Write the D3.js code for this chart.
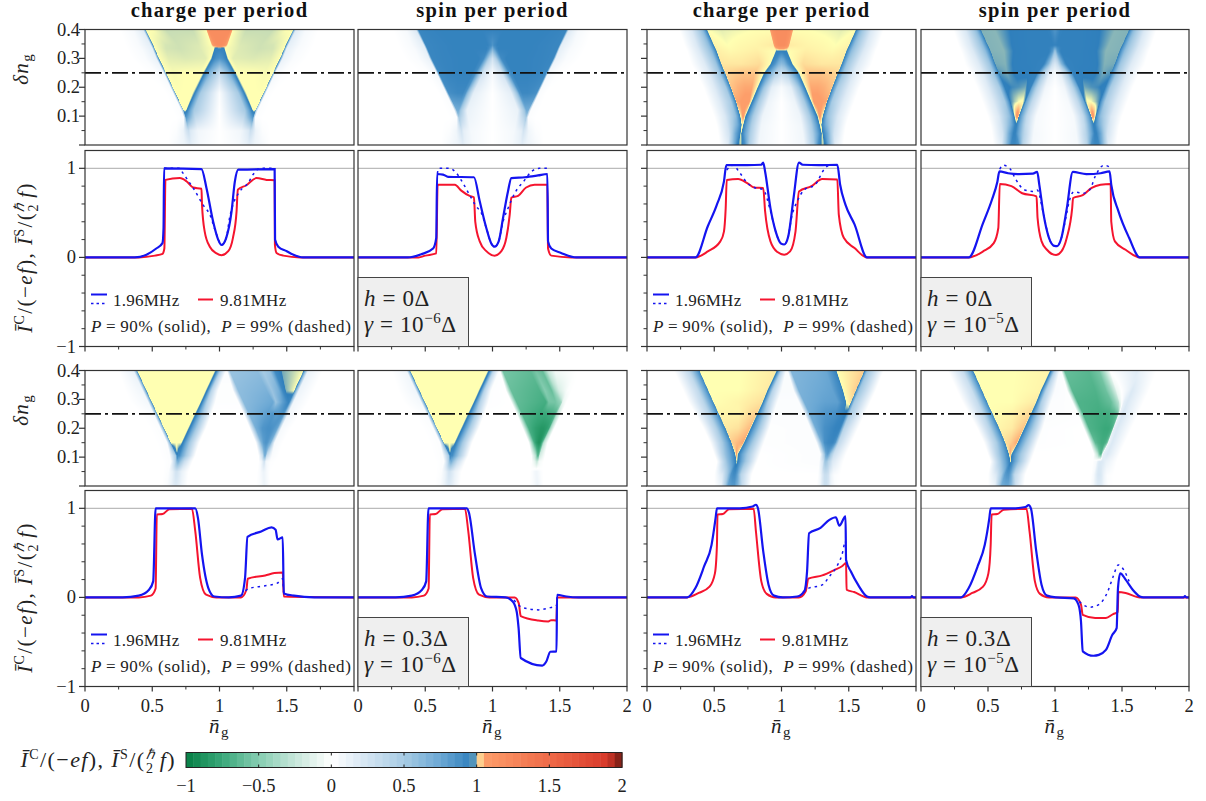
<!DOCTYPE html>
<html>
<head>
<meta charset="utf-8">
<script src="https://cdn.jsdelivr.net/npm/d3@7"></script>
<style>
  body { margin: 0; background: #fff; }
  text { font-family: "Liberation Serif", serif; fill: #222; }
  .tick-label { font-size: 18.5px; }
  .title { font-size: 20.5px; font-weight: bold; letter-spacing: 1.3px; text-anchor: middle; fill: #111; }
  .legend { font-size: 17px; letter-spacing: 0.25px; }
  .legend-wide { letter-spacing: 0.6px; }
  .info { font-size: 23px; letter-spacing: 0.6px; }
  .axis-label { font-size: 21px; letter-spacing: 1.4px; }
  .heat-map { filter: blur(0.45px); }
</style>
</head>
<body>
<svg id="chart" width="1206" height="801"></svg>
<script>
////////////////////////////////////////////////////////////////////
////////////////////////////  Line data  ///////////////////////////
// [n_g, current]
const redA = [[0,0],[.4,0],[.52,.02],[.576,.04],[.59,.1],[.598,.87],[.705,.89],[.754,.855],[.804,.785],[.866,.77],[.87,.59],[.89,.29],[.928,.12],[.978,.045],[1.015,.025],[1.065,.07],[1.1,.22],[1.127,.52],[1.136,.76],[1.2,.81],[1.275,.89],[1.35,.87],[1.41,.865],[1.412,.14],[1.424,.05],[1.474,.02],[1.6,0],[2,0]];
const blueA = [[0,0],[.37,0],[.457,.03],[.53,.1],[.576,.16],[.584,.33],[.588,1],[.866,.99],[.903,.78],[.953,.4],[.99,.2],[1.015,.14],[1.05,.22],[1.09,.52],[1.114,.85],[1.14,.985],[1.41,.99],[1.413,.2],[1.437,.12],[1.5,.07],[1.55,.03],[1.62,0],[2,0]];
const dotA = [[.588,1],[.7,1],[.717,.97],[.754,.89],[.804,.78],[.878,.59],[.928,.48],[.98,.25],[1.015,.14],[1.05,.22],[1.077,.46],[1.1,.59],[1.15,.74],[1.213,.835],[1.25,.93],[1.3,1],[1.41,1]];

const redB = [[0,0],[.45,0],[.5,.02],[.582,.045],[.592,.815],[.72,.815],[.768,.75],[.83,.69],[.862,.675],[.872,.4],[.905,.18],[.954,.07],[1.016,.02],[1.066,.07],[1.103,.22],[1.128,.48],[1.14,.67],[1.19,.69],[1.25,.785],[1.313,.815],[1.408,.815],[1.413,.1],[1.437,.02],[1.586,0],[2,0]];
const blueB = [[0,0],[.37,0],[.47,.035],[.558,.1],[.582,.22],[.588,.936],[.632,.93],[.67,.905],[.862,.9],[.905,.63],[.954,.33],[.99,.16],[1.016,.12],[1.046,.18],[1.078,.44],[1.115,.74],[1.14,.89],[1.24,.9],[1.338,.92],[1.408,.936],[1.413,.18],[1.437,.1],[1.51,.05],[1.623,0],[2,0]];
const dotB = [[.59,.94],[.6,1],[.68,1],[.73,.95],[.78,.835],[.83,.7],[.88,.57],[.917,.5],[.954,.33],[.99,.16],[1.016,.12],[1.046,.18],[1.078,.4],[1.115,.55],[1.165,.72],[1.24,.87],[1.29,.965],[1.35,1],[1.408,1]];

const redC = [[0,0],[.36,0],[.452,.067],[.545,.18],[.572,.29],[.585,.55],[.593,.87],[.678,.88],[.745,.835],[.798,.785],[.864,.78],[.878,.52],[.918,.18],[.97,.06],[1.02,.03],[1.064,.067],[1.104,.29],[1.13,.74],[1.223,.8],[1.303,.88],[1.415,.875],[1.426,.48],[1.463,.22],[1.543,.105],[1.636,0],[2,0]];
const blueC = [[0,0],[.36,0],[.452,.35],[.519,.59],[.572,.85],[.59,1.035],[.745,1.035],[.85,1.04],[.864,1.065],[.878,.965],[.918,.55],[.957,.29],[.997,.155],[1.02,.145],[1.05,.235],[1.09,.67],[1.13,1.065],[1.157,1.04],[1.277,1.035],[1.415,1.04],[1.436,.815],[1.476,.59],[1.543,.37],[1.636,0],[2,0]];
const dotC = [[.593,.98],[.638,1.035],[.69,.95],[.745,.835],[.798,.785],[.864,.76],[.918,.52],[.957,.29],[.997,.155],[1.02,.145],[1.05,.235],[1.075,.45],[1.117,.63],[1.17,.76],[1.25,.815],[1.316,.985],[1.356,1.035],[1.415,1.035]];

const redD = [[0,0],[.356,0],[.463,.067],[.543,.16],[.577,.33],[.588,.825],[.675,.8],[.755,.72],[.862,.685],[.87,.44],[.9,.18],[.94,.086],[1.008,.026],[1.048,.067],[1.088,.22],[1.128,.55],[1.135,.667],[1.207,.7],[1.274,.78],[1.34,.815],[1.415,.825],[1.42,.4],[1.447,.18],[1.527,.086],[1.633,0],[2,0]];
const blueD = [[0,0],[.356,0],[.463,.385],[.53,.65],[.57,.85],[.585,.965],[.65,.945],[.73,.935],[.835,.94],[.867,.96],[.883,.815],[.915,.48],[.955,.22],[.995,.13],[1.016,.127],[1.048,.22],[1.088,.55],[1.133,.96],[1.234,.935],[1.34,.945],[1.407,.965],[1.42,.815],[1.473,.52],[1.553,.22],[1.633,0],[2,0]];
const dotD = [[.588,.99],[.61,1.035],[.662,1],[.702,.89],[.77,.76],[.835,.74],[.867,.756],[.915,.48],[.955,.22],[.995,.13],[1.016,.127],[1.048,.22],[1.088,.5],[1.1,.59],[1.14,.735],[1.207,.72],[1.26,.76],[1.3,.91],[1.367,1.035],[1.415,1.01]];

const redE = [[0,0],[.4,0],[.49,.02],[.525,.1],[.534,.93],[.577,.935],[.628,.99],[.795,.995],[.82,.74],[.856,.22],[.9,.03],[.977,0],[1.16,0],[1.2,.086],[1.21,.21],[1.34,.247],[1.408,.273],[1.47,.28],[1.478,.01],[2,0]];
const blueE = [[0,0],[.28,0],[.4,.02],[.476,.086],[.507,.18],[.525,1],[.82,1],[.84,.89],[.87,.48],[.917,.105],[.962,.01],[1.07,0],[1.16,.02],[1.19,.22],[1.208,.68],[1.31,.74],[1.387,.785],[1.417,.76],[1.432,.65],[1.47,.674],[1.478,.045],[1.554,.02],[1.705,0],[2,0]];
const dotE = [[1.16,.02],[1.22,.1],[1.34,.13],[1.43,.16],[1.47,.21],[1.478,.04],[1.554,.02]];

const redF = [[0,0],[.4,0],[.49,.02],[.525,.1],[.534,.93],[.577,.935],[.628,.99],[.795,.995],[.82,.74],[.856,.22],[.9,.03],[.977,0],[1.165,0],[1.195,-.065],[1.21,-.21],[1.34,-.26],[1.415,-.27],[1.436,-.255],[1.476,-.26],[1.48,0],[2,0]];
const blueF = [[0,0],[.28,0],[.4,.02],[.476,.086],[.507,.18],[.524,1],[.81,1],[.825,.95],[.87,.48],[.915,.105],[.96,.01],[1.097,0],[1.15,-.045],[1.18,-.16],[1.194,-.345],[1.21,-.68],[1.37,-.765],[1.4,-.72],[1.43,-.61],[1.476,-.605],[1.48,.03],[1.55,.01],[1.64,0],[2,0]];
const dotF = [[1.16,-.03],[1.218,-.11],[1.34,-.14],[1.415,-.12],[1.476,-.09],[1.48,0]];

const redG = [[0,0],[.298,0],[.385,.05],[.465,.12],[.505,.27],[.52,.59],[.524,.93],[.564,.935],[.61,.99],[.793,.995],[.81,.74],[.85,.18],[.89,.04],[.957,0],[1.13,0],[1.18,.07],[1.2,.21],[1.303,.247],[1.396,.31],[1.45,.35],[1.48,.385],[1.484,.086],[1.54,.06],[1.635,0],[2,0]];
const blueG = [[0,0],[.298,0],[.36,.105],[.425,.35],[.48,.59],[.51,.89],[.52,1],[.69,1],[.785,1.02],[.81,1.04],[.825,1],[.864,.52],[.904,.14],[.944,.02],[1.01,0],[1.117,.01],[1.17,.07],[1.19,.29],[1.205,.72],[1.29,.78],[1.356,.87],[1.404,.9],[1.43,.805],[1.476,.91],[1.48,.42],[1.516,.29],[1.57,.14],[1.635,.01],[1.66,0],[1.96,0],[1.97,.015],[1.98,0],[2,0]];
const dotG = [[1.16,.06],[1.197,.1],[1.303,.14],[1.356,.235],[1.404,.33],[1.45,.48],[1.476,.63],[1.48,.42]];

const redH = [[0,0],[.298,0],[.383,.05],[.463,.12],[.503,.27],[.52,.59],[.527,.93],[.57,.935],[.617,.985],[.787,.995],[.81,.74],[.85,.18],[.888,.04],[.955,0],[1.154,0],[1.194,-.08],[1.207,-.195],[1.3,-.23],[1.38,-.23],[1.434,-.187],[1.468,-.165],[1.473,.06],[1.527,.05],[1.633,0],[2,0]];
const blueH = [[0,0],[.298,0],[.356,.105],[.423,.35],[.476,.59],[.51,.89],[.52,1],[.69,1],[.78,1.015],[.803,1.035],[.82,1],[.86,.52],[.9,.14],[.94,.02],[1.008,0],[1.14,-.01],[1.175,-.08],[1.194,-.27],[1.207,-.605],[1.287,-.655],[1.327,-.645],[1.38,-.59],[1.428,-.42],[1.46,-.345],[1.47,.105],[1.487,.27],[1.527,.2],[1.58,.086],[1.633,.01],[1.66,0],[1.96,0],[1.97,.015],[1.98,0],[2,0]];
const dotH = [[1.14,-.01],[1.168,-.03],[1.207,-.08],[1.26,-.11],[1.327,-.08],[1.394,.067],[1.434,.235],[1.473,.365],[1.513,.31],[1.553,.18]];

////////////////////////////////////////////////////////////////////
////////////////////////////  Map data  ////////////////////////////
// each map: rows of break points along n_g and the value at each break.
// break points were read off the picture row by row, upper maps are
// symmetric round n_g = 1 so only the left half is kept
const heatABDelta = [.40,.345,.335,.30,.25,.18,.12,.095,.05,0];
const heatABN = [
  [0,.26,.36,.43,.447,.452,.50,.60,.80,.90,.92,.95,1],
  [0,.30,.40,.49,.503,.508,.60,.70,.85,.94,.965,.99,1],
  [0,.31,.42,.50,.513,.518,.60,.70,.85,.96,.975,.99,1],
  [0,.35,.45,.53,.545,.55,.62,.75,.90,.935,.945,.975,1],
  [0,.45,.52,.585,.597,.602,.66,.74,.85,.875,.888,.93,1],
  [0,.55,.60,.655,.667,.672,.70,.74,.78,.80,.815,.86,1],
  [0,.60,.65,.715,.728,.733,.74,.745,.748,.75,.76,.81,1],
  [0,.62,.68,.735,.745,.75,.75,.75,.75,.75,.765,.82,1],
  [0,.62,.68,.73,.755,.77,.77,.77,.77,.77,.785,.84,1],
  [0,.62,.68,.74,.77,.78,.78,.78,.78,.78,.80,.86,1]
];
const heatAV = [
  [0,0,.05,.18,.8,1,1,.992,.992,1,1.2,1.2,1.2],
  [0,0,.04,.15,.8,1,.994,.993,.995,1,1.15,1.2,1.2],
  [0,0,.04,.14,.8,1,.994,.993,.995,1,.93,.95,.95],
  [0,0,.03,.12,.8,1,.996,.995,.996,1,.97,.88,.85],
  [0,0,.01,.06,.7,1,.999,1,1,1,.97,.65,.32],
  [0,0,0,.02,.6,1,1,1,1,1,.97,.5,.03],
  [0,0,0,.02,.4,1,1,1,1,1,.95,.5,0],
  [0,0,0,.02,.5,.85,.85,.85,.85,.85,.75,.35,0],
  [0,0,.02,.1,.25,.3,.3,.3,.3,.3,.2,.08,0],
  [0,0,.05,.1,.14,.15,.15,.15,.15,.15,.12,.05,0]
];
const heatBV = [
  [0,0,.05,.2,.9,.93,.94,.95,.95,.95,.95,.95,.95],
  [0,0,.04,.15,.9,.93,.94,.95,.95,.95,.95,.9,.85],
  [0,0,.04,.15,.9,.93,.94,.95,.95,.95,.9,.8,.7],
  [0,0,.03,.12,.88,.93,.94,.95,.95,.9,.8,.45,.25],
  [0,0,.01,.06,.85,.92,.94,.95,.95,.88,.75,.25,.05],
  [0,0,0,.03,.7,.88,.9,.92,.92,.85,.6,.15,0],
  [0,0,0,.02,.45,.7,.72,.72,.72,.7,.55,.12,0],
  [0,0,0,.02,.35,.5,.5,.5,.5,.5,.4,.1,0],
  [0,0,.02,.08,.2,.25,.25,.25,.25,.25,.15,.06,0],
  [0,0,.05,.1,.13,.15,.15,.15,.15,.15,.12,.05,0]
];

const heatCDDelta = [.40,.345,.325,.28,.25,.20,.15,.10,.07,.04,0];
const heatCDN = [
  [0,.24,.33,.41,.442,.447,.55,.68,.80,.91,.93,.96,.98,1],
  [0,.28,.37,.46,.495,.50,.60,.69,.80,.94,.96,.98,.995,1],
  [0,.30,.39,.48,.515,.52,.62,.70,.82,.955,.965,.985,.995,1],
  [0,.33,.43,.515,.55,.555,.63,.70,.84,.915,.925,.95,.98,1],
  [0,.37,.46,.54,.578,.583,.64,.71,.80,.868,.878,.91,.96,1],
  [0,.42,.50,.585,.62,.625,.68,.73,.78,.82,.83,.87,.93,1],
  [0,.46,.54,.625,.66,.665,.70,.73,.76,.775,.785,.83,.90,1],
  [0,.50,.58,.66,.69,.695,.71,.72,.728,.73,.74,.79,.86,1],
  [0,.52,.60,.67,.70,.705,.708,.71,.712,.714,.72,.78,.85,1],
  [0,.53,.61,.66,.69,.697,.70,.70,.70,.703,.71,.77,.84,1],
  [0,.54,.60,.64,.67,.685,.695,.70,.702,.71,.73,.76,.83,1]
];
const heatCV = [
  [0,0,.2,.6,.95,1,.996,.998,1,1,1.15,1.2,1.2,1.2],
  [0,0,.2,.6,.95,1.005,1,1.003,1.005,1.01,1.15,1.2,1.2,1.2],
  [0,0,.2,.6,.95,1.008,1.003,1.005,1.008,1,.95,.96,.96,.96],
  [0,0,.18,.55,.95,1.012,1.012,1.012,1.018,1,.95,.85,.65,.6],
  [0,0,.18,.55,.95,1.02,1.025,1.03,1.03,1,.95,.75,.42,.3],
  [0,0,.18,.5,.95,1.03,1.04,1.045,1.045,1,.95,.55,.15,.04],
  [0,0,.18,.5,.95,1.045,1.05,1.055,1.055,1,.95,.5,.1,0],
  [0,0,.2,.6,.95,1,1.05,1.055,1.01,.99,.95,.5,.1,0],
  [0,0,.25,.7,.95,1,1,1,1,1,.95,.45,.08,0],
  [0,0,.25,.75,.95,.995,1,1,.995,.97,.93,.45,.08,0],
  [0,0,.15,.6,.95,.98,.99,.99,.98,.95,.85,.45,.08,0]
];
const heatDV = [
  [0,0,.2,.6,.93,.982,.983,.968,.96,.96,.96,.95,.9,.85],
  [0,0,.2,.6,.93,.982,.983,.968,.96,.96,.96,.96,.95,.95],
  [0,0,.2,.6,.93,.982,.983,.968,.96,.96,.93,.8,.6,.55],
  [0,0,.18,.55,.93,.98,.982,.966,.96,.95,.88,.65,.3,.2],
  [0,0,.18,.55,.92,.975,.98,.966,.965,.95,.85,.5,.15,.05],
  [0,0,.18,.5,.9,.965,.972,.975,.98,.94,.75,.4,.08,0],
  [0,0,.18,.5,.9,.97,.988,1,1.003,.97,.75,.35,.05,0],
  [0,0,.2,.6,.9,.97,1.05,1.08,1.03,.97,.85,.35,.05,0],
  [0,0,.25,.7,.93,.95,.95,.95,.95,.95,.9,.35,.05,0],
  [0,0,.25,.75,.95,.95,.95,.95,.95,.95,.9,.4,.06,0],
  [0,0,.15,.6,.9,.92,.92,.92,.92,.9,.85,.4,.06,0]
];

const heatEFDelta = [.40,.33,.29,.25,.20,.15,.105,.085,.05,0];
const heatEFN = [
  [0,.25,.36,.383,.388,.70,.965,.98,1.01,1.05,1.055,1.075,1.28,1.32,1.37,1.41,1.465,1.625,1.66,1.77,2],
  [0,.30,.43,.453,.458,.68,.895,.91,.94,.99,1.10,1.14,1.35,1.39,1.44,1.47,1.495,1.555,1.59,1.70,2],
  [0,.34,.47,.493,.498,.69,.857,.87,.91,.97,1.14,1.18,1.40,1.42,1.47,1.505,1.515,1.52,1.55,1.66,2],
  [0,.42,.51,.533,.538,.70,.815,.83,.88,.94,1.18,1.22,1.35,1.40,1.43,1.46,1.47,1.48,1.51,1.60,2],
  [0,.48,.56,.583,.588,.70,.765,.78,.83,.90,1.225,1.27,1.32,1.36,1.38,1.40,1.42,1.43,1.46,1.53,2],
  [0,.53,.61,.633,.638,.68,.715,.73,.78,.85,1.27,1.31,1.325,1.34,1.35,1.36,1.37,1.38,1.41,1.47,2],
  [0,.56,.63,.675,.682,.685,.688,.70,.75,.82,1.29,1.32,1.33,1.335,1.34,1.345,1.347,1.35,1.39,1.44,2],
  [0,.58,.64,.67,.68,.69,.695,.705,.74,.80,1.29,1.31,1.32,1.33,1.335,1.34,1.345,1.35,1.38,1.42,2],
  [0,.58,.62,.65,.665,.675,.685,.70,.72,.77,1.28,1.30,1.31,1.325,1.33,1.34,1.35,1.36,1.38,1.40,2],
  [0,.57,.61,.64,.655,.67,.68,.70,.72,.76,1.27,1.29,1.31,1.325,1.335,1.345,1.36,1.37,1.38,1.40,2]
];
const heatEV = [
  [0,0,.12,.8,1,1,1,.95,.4,.02,.02,.55,.6,.5,.55,.9,.98,1,.12,0,0],
  [0,0,.08,.8,1,1,1,.95,.4,.01,.01,.6,.68,.55,.7,.92,.982,1,.1,0,0],
  [0,0,.06,.8,1,1,1,.95,.4,.01,.01,.62,.75,.55,.8,.92,.94,.9,.08,0,0],
  [0,0,.03,.75,1,1,1,.95,.45,0,0,.65,.8,.85,.8,.85,.85,.8,.08,0,0],
  [0,0,.02,.7,1,1,1,.95,.5,0,0,.7,.85,.88,.88,.85,.8,.75,.05,0,0],
  [0,0,.02,.7,1,1,1,.95,.5,0,0,.65,.8,.85,.85,.82,.75,.7,.05,0,0],
  [0,0,.02,.5,.85,1,.9,.9,.5,0,0,.3,.6,.7,.7,.6,.5,.3,.03,0,0],
  [0,0,.02,.4,.6,.7,.7,.6,.3,0,0,.06,.15,.25,.25,.15,.1,.06,.01,0,0],
  [0,0,.02,.12,.2,.25,.25,.2,.12,0,0,.03,.06,.1,.1,.08,.05,.03,0,0,0],
  [0,0,.03,.1,.15,.18,.18,.14,.08,0,0,.02,.04,.08,.09,.07,.04,.02,0,0,0]
];
const heatFV = [
  [0,0,.08,.8,1,1,1,.95,.35,.02,0,-.55,-.62,-.55,-.6,-.25,-.05,0,0,0,0],
  [0,0,.08,.8,1,1,1,.95,.4,.01,0,-.6,-.68,-.5,-.6,-.35,-.18,-.02,0,0,0],
  [0,0,.06,.8,1,1,1,.95,.4,.01,0,-.62,-.72,-.55,-.55,-.45,-.35,-.1,0,0,0],
  [0,0,.03,.75,1,1,1,.95,.45,0,0,-.65,-.75,-.75,-.72,-.7,-.6,-.3,0,0,0],
  [0,0,.02,.7,1,1,1,.95,.5,0,0,-.7,-.8,-.85,-.85,-.82,-.75,-.4,0,0,0],
  [0,0,.02,.7,1,1,1,.95,.5,0,0,-.7,-.82,-.88,-.88,-.82,-.65,-.3,0,0,0],
  [0,0,.02,.5,.85,1,.9,.9,.5,0,0,-.3,-.55,-.65,-.65,-.55,-.4,-.2,0,0,0],
  [0,0,.02,.4,.6,.7,.7,.6,.3,0,0,-.08,-.15,-.25,-.2,-.12,-.08,-.04,0,0,0],
  [0,0,.02,.12,.2,.25,.25,.2,.12,0,0,.03,.06,.08,.08,.06,.04,.02,0,0,0],
  [0,0,.03,.1,.15,.18,.18,.14,.08,0,0,.02,.04,.08,.09,.07,.04,.02,0,0,0]
];

const heatGHDelta = [.40,.33,.29,.25,.20,.15,.11,.085,.04,0];
const heatGHN = [
  [0,.20,.31,.385,.39,.70,.96,.972,1.00,1.035,1.045,1.07,1.25,1.33,1.37,1.40,1.41,1.615,1.64,1.76,2],
  [0,.27,.38,.452,.457,.68,.89,.90,.935,1.0,1.09,1.13,1.30,1.38,1.42,1.45,1.46,1.55,1.575,1.70,2],
  [0,.31,.42,.49,.495,.68,.855,.865,.90,.97,1.13,1.17,1.32,1.42,1.45,1.475,1.482,1.515,1.54,1.66,2],
  [0,.36,.46,.53,.535,.68,.815,.825,.87,.94,1.17,1.21,1.33,1.40,1.44,1.46,1.47,1.48,1.505,1.62,2],
  [0,.42,.51,.58,.585,.68,.765,.775,.83,.91,1.215,1.255,1.32,1.37,1.40,1.42,1.43,1.44,1.465,1.57,2],
  [0,.47,.56,.625,.63,.67,.715,.725,.78,.87,1.26,1.30,1.32,1.345,1.365,1.38,1.39,1.40,1.425,1.52,2],
  [0,.50,.58,.65,.658,.665,.672,.682,.74,.84,1.29,1.32,1.33,1.34,1.345,1.35,1.355,1.36,1.39,1.48,2],
  [0,.52,.60,.655,.665,.668,.672,.68,.73,.82,1.28,1.31,1.32,1.33,1.34,1.345,1.35,1.36,1.38,1.46,2],
  [0,.50,.56,.60,.625,.64,.655,.67,.70,.78,1.27,1.29,1.305,1.32,1.335,1.35,1.36,1.37,1.39,1.44,2],
  [0,.50,.55,.58,.60,.63,.65,.675,.71,.77,1.26,1.285,1.30,1.32,1.335,1.35,1.365,1.375,1.40,1.44,2]
];
const heatGV = [
  [0,0,.35,.9,1,1,1.01,.95,.4,.03,.03,.65,.7,.75,.85,.93,1,1.025,.55,0,0],
  [0,0,.35,.9,1,1,1.01,.95,.4,.03,.03,.68,.75,.78,.88,.93,1,1.025,.55,0,0],
  [0,0,.38,.9,1,1.005,1.015,.95,.45,.02,.02,.7,.78,.8,.9,.94,1,1.015,.5,0,0],
  [0,0,.4,.92,1.005,1.005,1.025,.95,.55,.02,.02,.72,.85,.88,.93,.95,.96,.95,.5,0,0],
  [0,0,.42,.93,1.01,1.015,1.035,.95,.55,.01,.02,.72,.88,.92,.95,.95,.95,.9,.4,0,0],
  [0,0,.5,.93,1.025,1.035,1.045,.95,.55,.01,.02,.7,.88,.92,.93,.93,.9,.85,.35,0,0],
  [0,0,.55,.93,1,1.05,1,.95,.55,0,.02,.55,.75,.8,.8,.75,.7,.6,.28,0,0],
  [0,0,.6,.93,.98,1,.98,.93,.55,0,.02,.25,.5,.55,.5,.45,.4,.35,.2,0,0],
  [0,0,.2,.55,.85,.9,.9,.8,.4,0,0,.08,.2,.3,.3,.25,.15,.1,.03,0,0],
  [0,0,.1,.45,.75,.82,.82,.65,.3,0,0,.06,.18,.28,.28,.22,.12,.08,.02,0,0]
];
const heatHV = [
  [0,0,.3,.9,1,1,1.005,.95,.4,.03,.01,-.6,-.65,-.55,-.3,-.1,0,.18,.12,0,0],
  [0,0,.3,.9,1,1,1.005,.95,.4,.03,.01,-.65,-.68,-.58,-.4,-.2,-.08,.12,.2,0,0],
  [0,0,.33,.9,1,1,1.01,.95,.45,.02,.01,-.68,-.7,-.6,-.45,-.3,-.15,.15,.2,0,0],
  [0,0,.35,.9,1,1.005,1.02,.95,.55,.02,.01,-.68,-.72,-.72,-.68,-.62,-.55,.1,.22,0,0],
  [0,0,.4,.92,1.005,1.01,1.03,.95,.55,.01,0,-.68,-.72,-.75,-.75,-.72,-.65,.15,.2,0,0],
  [0,0,.45,.92,1.015,1.025,1.045,.95,.55,.01,0,-.62,-.68,-.72,-.72,-.68,-.55,.1,.2,0,0],
  [0,0,.5,.93,1,1.05,1,.95,.55,0,0,-.3,-.55,-.65,-.65,-.3,.05,.15,.2,0,0],
  [0,0,.55,.92,.96,1,.96,.92,.55,0,0,.05,.15,.2,.2,.2,.2,.18,.12,0,0],
  [0,0,.2,.5,.8,.85,.85,.75,.35,0,0,.05,.15,.22,.22,.18,.12,.08,.02,0,0],
  [0,0,.1,.45,.7,.75,.75,.6,.25,0,0,.05,.12,.18,.18,.15,.08,.05,.01,0,0]
];

// colour bar stops
const cbarValues = [-1,-.75,-.5,-.25,0,.25,.5,.75,.97,1,1.05,1.5,1.9,2];
const cbarColors = ["#067f45","#3aa87a","#86cdb1","#c6e7da","#ffffff","#d3e4f2","#a7cbe4","#6ba8d4","#2f7fbc","#ffffb2","#fd9e6a","#ef6a48","#d8392a","#6e1a12"];

// text
const titles = ["charge per period", "spin per period", "charge per period", "spin per period"];
const infoLabels = [["0", "−6"], ["0", "−5"], ["0.3", "−6"], ["0.3", "−5"]];
const xTicks = [0, 0.5, 1, 1.5, 2];
const heatTicks = [0.1, 0.2, 0.3, 0.4];
const lineTicks = [-1, 0, 1];
const cbarTicks = [-1, -0.5, 0, 0.5, 1, 1.5, 2];

////////////////////////////////////////////////////////////////////
////////////////////////////  Layout  //////////////////////////////
const svg = d3.select("#chart");
const columns = [[85, 354], [358, 627], [647, 916], [921, 1189]];
const heatRows = [[145, 29.5], [486, 370.5]];
const lineRows = [[346.5, 150.5], [686.5, 490.5]];

const colorScale = d3.scaleLinear().domain(cbarValues).range(cbarColors).clamp(true);

const mirrorRows = (rows, flip) =>
  rows.map((r) => r.concat(r.slice(0, -1).reverse().map(flip)));
const mirrorN = (rows) => mirrorRows(rows, (x) => 2 - x);
const mirrorV = (rows) => mirrorRows(rows, (x) => x);

const heats = [
  [
    { delta: heatABDelta, n: mirrorN(heatABN), v: mirrorV(heatAV) },
    { delta: heatABDelta, n: mirrorN(heatABN), v: mirrorV(heatBV) },
    { delta: heatCDDelta, n: mirrorN(heatCDN), v: mirrorV(heatCV) },
    { delta: heatCDDelta, n: mirrorN(heatCDN), v: mirrorV(heatDV) },
  ],
  [
    { delta: heatEFDelta, n: heatEFN, v: heatEV },
    { delta: heatEFDelta, n: heatEFN, v: heatFV },
    { delta: heatGHDelta, n: heatGHN, v: heatGV },
    { delta: heatGHDelta, n: heatGHN, v: heatHV },
  ],
];
const curves = [
  [[redA, dotA, blueA], [redB, dotB, blueB], [redC, dotC, blueC], [redD, dotD, blueD]],
  [[redE, dotE, blueE], [redF, dotF, blueF], [redG, dotG, blueG], [redH, dotH, blueH]],
];

// value of a map at (n, d), shaded between the read break points
function fieldAt(f, n, d) {
  let r = 0;
  while (r < f.delta.length - 2 && d < f.delta[r + 1]) r++;
  const t = Math.max(0, Math.min(1, (f.delta[r] - d) / (f.delta[r] - f.delta[r + 1])));
  const na = f.n[r], nb = f.n[r + 1], va = f.v[r], vb = f.v[r + 1];
  let prevN = 0, prevV = va[0] + (vb[0] - va[0]) * t;
  for (let k = 1; k < na.length; k++) {
    const nk = na[k] + (nb[k] - na[k]) * t;
    const vk = va[k] + (vb[k] - va[k]) * t;
    if (n <= nk) {
      return nk > prevN ? prevV + ((vk - prevV) * (n - prevN)) / (nk - prevN) : vk;
    }
    prevN = nk;
    prevV = vk;
  }
  return prevV;
}

function drawHeat(f, x, y) {
  const w = Math.round(x.range()[1] - x.range()[0]);
  const h = Math.round(y.range()[0] - y.range()[1]);
  const canvas = document.createElement("canvas");
  canvas.width = w;
  canvas.height = h;
  const ctx = canvas.getContext("2d");
  const img = ctx.createImageData(w, h);
  for (let j = 0; j < h; j++) {
    const d = y.invert(y.range()[1] + ((j + 0.5) / h) * (y.range()[0] - y.range()[1]));
    for (let i = 0; i < w; i++) {
      const n = x.invert(x.range()[0] + ((i + 0.5) / w) * (x.range()[1] - x.range()[0]));
      const c = d3.rgb(colorScale(fieldAt(f, n, d)));
      const p = (j * w + i) * 4;
      img.data[p] = c.r; img.data[p + 1] = c.g; img.data[p + 2] = c.b; img.data[p + 3] = 255;
    }
  }
  ctx.putImageData(img, 0, 0);
  svg.append("image")
    .attr("class", "heat-map")
    .attr("x", x.range()[0]).attr("y", y.range()[1])
    .attr("width", x.range()[1] - x.range()[0])
    .attr("height", y.range()[0] - y.range()[1])
    .attr("preserveAspectRatio", "none")
    .attr("href", canvas.toDataURL());
}

function drawFrame(x, y) {
  svg.append("rect")
    .attr("x", x.range()[0]).attr("y", y.range()[1])
    .attr("width", x.range()[1] - x.range()[0])
    .attr("height", y.range()[0] - y.range()[1])
    .attr("fill", "none").attr("stroke", "#333").attr("stroke-width", 1.2);
}

function tickMarks(values, pos, len, width) {
  svg.append("g").selectAll("line").data(values).join("line")
    .each(function (v) {
      const p = pos(v, len);
      d3.select(this).attr("x1", p[0]).attr("y1", p[1]).attr("x2", p[2]).attr("y2", p[3]);
    })
    .attr("stroke", "#333").attr("stroke-width", width);
}

// mean current label, drawn rotated for the y axes
function currentLabel(sel) {
  const t = (s, italic, size, dy, dx) => {
    const a = sel.append("tspan").text(s);
    if (italic) a.attr("font-style", "italic");
    if (size) a.attr("font-size", size);
    if (dy) a.attr("dy", dy);
    if (dx) a.attr("dx", dx);
  };
  t("I\u0304", true); t("C", false, 14, -8); t("/(−", false, null, 8);
  t("ef", true); t("),\u00a0", false);
  t("I\u0304", true); t("S", false, 14, -8); t("/(", false, null, 8);
  t("ℏ", true, 14, -8); t("2", false, 14, 14, -10); t("\u00a0", false, 8, -6);
  t("f", true, null, 0, 2); t(")", false);
}

function subG(sel, base) {
  sel.append("tspan").attr("font-style", "italic").text(base);
  sel.append("tspan").attr("font-size", 15).attr("dy", 4).text("g");
}

////////////////////////////////////////////////////////////////////
////////////////////////////  Panels  //////////////////////////////
const line = d3.line().curve(d3.curveMonotoneX);

[0, 1].forEach((row) => {
  columns.forEach((col, c) => {
    const x = d3.scaleLinear().domain([0, 2]).range(col);
    const yHeat = d3.scaleLinear().domain([0, 0.4]).range(heatRows[row]);
    const yLine = d3.scaleLinear().domain([-1, 1.2]).range(lineRows[row]);
    const bottomLine = lineRows[row][0];

    // map
    drawHeat(heats[row][c], x, yHeat);
    svg.append("line")
      .attr("x1", x(0)).attr("x2", x(2))
      .attr("y1", yHeat(0.25)).attr("y2", yHeat(0.25))
      .attr("stroke", "#111").attr("stroke-width", 1.7)
      .attr("stroke-dasharray", "16 4 3 4");
    drawFrame(x, yHeat);

    // reference line and curves
    svg.append("line")
      .attr("x1", x(0)).attr("x2", x(2))
      .attr("y1", yLine(1)).attr("y2", yLine(1))
      .attr("stroke", "#bbb").attr("stroke-width", 1.2);
    line.x((d) => x(d[0])).y((d) => yLine(d[1]));
    const [red, dot, blue] = curves[row][c];
    svg.append("path").attr("d", line(red)).attr("fill", "none").attr("stroke", "#f5142e").attr("stroke-width", 2);
    svg.append("path").attr("d", line(dot)).attr("fill", "none").attr("stroke", "#1414f0").attr("stroke-width", 1.5).attr("stroke-dasharray", "2.5 4");
    svg.append("path").attr("d", line(blue)).attr("fill", "none").attr("stroke", "#1414f0").attr("stroke-width", 2.2);
    drawFrame(x, yLine);

    // x ticks on the line panels
    const xPos = (v, len) => [x(v), bottomLine, x(v), bottomLine + len];
    tickMarks(d3.range(0, 2.01, 0.5), xPos, 5, 1.2);
    tickMarks(d3.range(0.25, 2, 0.5), xPos, 3, 1);
    if (row === 1) {
      svg.append("g").selectAll("text")
        .data(c % 2 === 0 ? xTicks.slice(0, -1) : xTicks).join("text")
        .attr("class", "tick-label").attr("text-anchor", "middle")
        .attr("x", (v) => x(v)).attr("y", bottomLine + 25)
        .text((v) => v);
      subG(svg.append("text").attr("class", "axis-label").attr("text-anchor", "middle")
        .attr("x", x(1)).attr("y", bottomLine + 46), "n\u0304");
    }

    // y ticks only in the first column of each pair
    if (c % 2 === 0) {
      const hPos = (v, len) => [x(0) - len, yHeat(v), x(0), yHeat(v)];
      const lPos = (v, len) => [x(0) - len, yLine(v), x(0), yLine(v)];
      tickMarks(d3.range(0, 0.41, 0.1), hPos, 6, 1.2);
      tickMarks(d3.range(0.05, 0.4, 0.1), hPos, 3.5, 1);
      tickMarks(lineTicks, lPos, 6, 1.2);
      tickMarks(d3.range(-0.8, 1, 0.2).filter((v) => Math.abs(v) > 0.01), lPos, 3.5, 1);
    }
    if (c === 0) {
      svg.append("g").selectAll("text").data(heatTicks).join("text")
        .attr("class", "tick-label").attr("text-anchor", "end")
        .attr("x", x(0) - 5).attr("y", (v) => yHeat(v) + 6)
        .text((v) => v.toFixed(1));
      svg.append("g").selectAll("text").data(lineTicks).join("text")
        .attr("class", "tick-label").attr("text-anchor", "end")
        .attr("x", x(0) - 9).attr("y", (v) => yLine(v) + 6)
        .text((v) => (v < 0 ? "−" + -v : v));
      const lab = svg.append("text").attr("class", "axis-label").attr("text-anchor", "middle")
        .attr("transform", `translate(28,${yHeat(0.25) - 4}) rotate(-90)`);
      lab.append("tspan").attr("font-style", "italic").text("δn");
      lab.append("tspan").attr("font-size", 15).attr("dy", 4).text("g");
      const cur = svg.append("text").attr("class", "axis-label").attr("text-anchor", "middle")
        .attr("transform", `translate(32,${yLine(0)}) rotate(-90)`);
      currentLabel(cur);
    }

    // legend or info box
    const left = x(0);
    if (c % 2 === 0) {
      const y0 = bottomLine;
      const hl = (x1, x2, yy, color, dash, w) =>
        svg.append("line").attr("x1", left + x1).attr("x2", left + x2).attr("y1", y0 + yy).attr("y2", y0 + yy)
          .attr("stroke", color).attr("stroke-width", w).attr("stroke-dasharray", dash);
      hl(6, 22, -52, "#1414f0", null, 2);
      hl(6, 22, -43, "#1414f0", "2.5 3", 1.5);
      hl(113, 128, -47, "#f5142e", null, 2);
      svg.append("text").attr("class", "legend").attr("x", left + 28).attr("y", y0 - 41).text("1.96MHz");
      svg.append("text").attr("class", "legend").attr("x", left + 135).attr("y", y0 - 41).text("9.81MHz");
      const p = svg.append("text").attr("class", "legend legend-wide").attr("x", left + 6).attr("y", y0 - 14.5);
      p.append("tspan").attr("font-style", "italic").text("P");
      p.append("tspan").text("\u2009=\u200990% (solid),\u00a0\u00a0");
      p.append("tspan").attr("font-style", "italic").text("P");
      p.append("tspan").text("\u2009=\u200999% (dashed)");
    } else {
      const info = infoLabels[row * 2 + (c - 1) / 2];
      svg.append("rect")
        .attr("x", left).attr("y", bottomLine - 69)
        .attr("width", 110.5).attr("height", 69)
        .attr("fill", "#efefef").attr("stroke", "#444").attr("stroke-width", 1);
      const a = svg.append("text").attr("class", "info").attr("x", left + 6).attr("y", bottomLine - 41);
      a.append("tspan").attr("font-style", "italic").text("h");
      a.append("tspan").text(` = ${info[0]}Δ`);
      const b = svg.append("text").attr("class", "info").attr("x", left + 6).attr("y", bottomLine - 15);
      b.append("tspan").attr("font-style", "italic").text("γ");
      b.append("tspan").text(" = 10");
      b.append("tspan").attr("font-size", 15).attr("dy", -9).text(info[1]);
      b.append("tspan").attr("dy", 9).text("Δ");
    }

    if (row === 0) {
      svg.append("text").attr("class", "title").attr("x", x(1)).attr("y", 17).text(titles[c]);
    }
  });
});

////////////////////////////////////////////////////////////////////
////////////////////////////  Colour bar  //////////////////////////
const cx = d3.scaleLinear().domain([-1, 2]).range([186, 622]);
const barTop = 752.5, barBottom = 767.5;
const bands = d3.range(-1, 2, 0.05);
svg.append("g").selectAll("rect").data(bands).join("rect")
  .attr("x", (v) => cx(v)).attr("y", barTop)
  .attr("width", cx(0.05) - cx(0) + 0.5).attr("height", barBottom - barTop)
  .attr("fill", (v) => colorScale(v + 0.025));
svg.append("rect").attr("x", cx(-1)).attr("y", barTop)
  .attr("width", cx(2) - cx(-1)).attr("height", barBottom - barTop)
  .attr("fill", "none").attr("stroke", "#222").attr("stroke-width", 1);
svg.append("g").selectAll("line").data(cbarTicks.slice(1, -1)).join("line")
  .attr("x1", (v) => cx(v)).attr("x2", (v) => cx(v))
  .attr("y1", barTop).attr("y2", barTop + 3).attr("stroke", "#222");
svg.append("g").selectAll("line").data(cbarTicks.slice(1, -1)).join("line")
  .attr("x1", (v) => cx(v)).attr("x2", (v) => cx(v))
  .attr("y1", barBottom - 3).attr("y2", barBottom).attr("stroke", "#222");
svg.append("g").selectAll("text").data(cbarTicks).join("text")
  .attr("class", "tick-label").attr("text-anchor", "middle")
  .attr("x", (v) => cx(v)).attr("y", 792)
  .text((v) => (v < 0 ? "−" + -v : v));
currentLabel(svg.append("text").attr("class", "axis-label").style("font-size", "22px").attr("text-anchor", "end").attr("x", 176).attr("y", 767));
</script>
</body>
</html>
